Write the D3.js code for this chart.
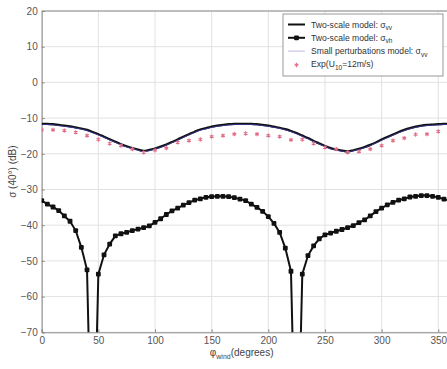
<!DOCTYPE html>
<html lang="en">
<head>
<meta charset="UTF-8">
<title>Two-scale model vs experiment</title>
<script src="https://d3js.org/d3.v7.min.js"></script>
<style>
    body { margin: 0; background: #fff; }
    text { font-family: "Liberation Sans", Arial, sans-serif; }
    .tick text { font-size: 10px; fill: #555; }
    .grid line { stroke: #e2e2e2; stroke-width: 1; }
</style>
</head>
<body>
<svg width="447" height="369"></svg>
<script>
// wind direction (deg) for model curves, 5 degree step
const phiModel = d3.range(0, 361, 5);

// Two-scale model sigma_vv (dB)
const twoScaleVV = [
    -11.6, -11.6, -11.7, -11.9, -12.1, -12.3, -12.6, -12.9, -13.3, -13.9,   // 0-45
    -14.5, -15.2, -15.9, -16.6, -17.3, -17.9, -18.4, -18.8, -19.2,          // 50-90
    -18.9, -18.5, -18.0, -17.4, -16.7, -16.0, -15.2, -14.5, -13.8, -13.2,   // 95-140
    -12.8, -12.4, -12.1, -11.9, -11.7, -11.6, -11.6,                        // 145-175
    -11.6, -11.6, -11.7, -11.9, -12.1, -12.4, -12.7, -13.1, -13.6, -14.2,   // 180-225
    -14.9, -15.6, -16.4, -17.1, -17.8, -18.4, -18.8, -19.1, -19.3,          // 230-270
    -19.0, -18.6, -18.1, -17.5, -16.8, -16.0, -15.3, -14.6, -13.9, -13.3,   // 275-320
    -12.8, -12.4, -12.1, -11.9, -11.8, -11.7, -11.6,                        // 325-355
    -11.6                                                                   // 360
];

// Small perturbations model sigma_vv (dB)
const spmVV = [
    -11.8, -11.8, -11.9, -12.1, -12.3, -12.5, -12.8, -13.1, -13.5, -14.1,
    -14.7, -15.4, -16.1, -16.8, -17.5, -18.1, -18.6, -19.0, -19.4,
    -19.1, -18.7, -18.2, -17.6, -16.9, -16.2, -15.4, -14.7, -14.0, -13.4,
    -13.0, -12.6, -12.3, -12.1, -11.9, -11.8, -11.8,
    -11.8, -11.8, -11.9, -12.1, -12.3, -12.6, -12.9, -13.3, -13.8, -14.4,
    -15.1, -15.8, -16.6, -17.3, -18.0, -18.6, -19.0, -19.3, -19.5,
    -19.2, -18.8, -18.3, -17.7, -17.0, -16.2, -15.5, -14.8, -14.1, -13.5,
    -13.0, -12.6, -12.3, -12.1, -12.0, -11.9, -11.8,
    -11.8
];

// Two-scale model sigma_vh (dB); values at 45 and 225 fall far below the axis
const twoScaleVH = [
    -33.1, -34.1, -34.9, -35.9, -37.4, -38.9, -41.5, -46.2, -52.5, -120,
    -53.7, -48.3, -45.3, -43.0, -42.4, -42.0, -41.5, -41.1, -40.7, -40.2,
    -39.2, -38.2, -37.0, -36.0, -35.2, -34.4, -33.7, -33.0, -32.6, -32.2,
    -32.0, -31.9, -31.9, -32.0, -32.3, -32.7, -33.1, -34.1, -35.0, -36.1,
    -37.6, -39.5, -42.0, -46.4, -52.9, -120, -53.7, -48.5, -45.8, -43.8,
    -42.7, -42.2, -41.7, -41.2, -40.7, -40.1, -39.3, -38.5, -37.4, -36.2,
    -35.2, -34.3, -33.6, -33.0, -32.6, -32.1, -31.9, -31.7, -31.7, -31.9,
    -32.2, -32.7, -33.1
];

// Experiment, U10 = 12 m/s, 10 degree step
const phiExp = d3.range(0, 360, 10);
const expVV = [
    -13.3, -13.3, -13.5, -14.0, -14.9, -16.0, -17.1, -17.7, -18.7, -19.6,
    -19.0, -18.4, -16.8, -16.3, -16.0, -15.2, -14.9, -14.5, -14.3, -14.5,
    -14.9, -15.2, -16.1, -16.0, -17.1, -18.2, -18.7, -19.6, -19.4, -18.7,
    -17.7, -16.3, -15.6, -14.6, -14.5, -13.7
];

const xTicks = [0, 50, 100, 150, 200, 250, 300, 350];
const yTicks = [-70, -60, -50, -40, -30, -20, -10, 0, 10, 20];

const pLeft = 41.7, pRight = 449.6, pTop = 11, pBottom = 332.3;

const svg = d3.select("svg");

const x = d3.scaleLinear().domain([0, 360]).range([pLeft, pRight]);
const y = d3.scaleLinear().domain([-70, 20]).range([pBottom, pTop]);

svg.append("defs").append("clipPath")
    .attr("id", "plot")
    .append("rect")
    .attr("x", pLeft).attr("y", pTop)
    .attr("width", pRight - pLeft).attr("height", pBottom - pTop);

// grid
const grid = svg.append("g").attr("class", "grid");
grid.selectAll(".vx").data(xTicks).enter().append("line")
    .attr("x1", d => x(d)).attr("x2", d => x(d))
    .attr("y1", pTop).attr("y2", pBottom);
grid.selectAll(".hy").data(yTicks).enter().append("line")
    .attr("x1", pLeft).attr("x2", pRight)
    .attr("y1", d => y(d)).attr("y2", d => y(d));

// axes (MATLAB style: inward ticks)
svg.append("g")
    .attr("transform", "translate(0," + pBottom + ")")
    .call(d3.axisBottom(x).tickValues(xTicks).tickSize(-3).tickPadding(5));
svg.append("g")
    .attr("transform", "translate(" + pLeft + ",0)")
    .call(d3.axisLeft(y).tickValues(yTicks).tickSize(-3).tickPadding(4));
svg.selectAll(".domain").attr("stroke", "#8a8a8a");
svg.selectAll(".tick line").attr("stroke", "#8a8a8a");

svg.append("line")
    .attr("x1", pLeft).attr("x2", pRight)
    .attr("y1", pTop).attr("y2", pTop)
    .attr("stroke", "#8a8a8a");

const plot = svg.append("g").attr("clip-path", "url(#plot)");

const line = d3.line()
    .x((d, i) => x(phiModel[i]))
    .y(d => y(d))
    .curve(d3.curveLinear);

// sigma_vh with markers
plot.append("path")
    .datum(twoScaleVH)
    .attr("d", line)
    .attr("fill", "none")
    .attr("stroke", "#111")
    .attr("stroke-width", 2);
plot.selectAll(".vh").data(twoScaleVH).enter().append("rect")
    .attr("x", (d, i) => x(phiModel[i]) - 2.4)
    .attr("y", d => y(d) - 2.4)
    .attr("width", 4.8).attr("height", 4.8)
    .attr("rx", 1)
    .attr("fill", "#111");

// two-scale sigma_vv
plot.append("path")
    .datum(twoScaleVV)
    .attr("d", line.curve(d3.curveCatmullRom))
    .attr("fill", "none")
    .attr("stroke", "#111")
    .attr("stroke-width", 2.2);

// SPM sigma_vv
plot.append("path")
    .datum(spmVV)
    .attr("d", line.curve(d3.curveCatmullRom))
    .attr("fill", "none")
    .attr("stroke", "#34348a")
    .attr("stroke-width", 1);

// experiment
const star = d3.symbol().type(d3.symbolAsterisk).size(13);
plot.selectAll(".exp").data(expVV).enter().append("path")
    .attr("d", star)
    .attr("transform", (d, i) => "translate(" + x(phiExp[i]) + "," + y(d) + ")")
    .attr("fill", "none")
    .attr("stroke", "#e0708a")
    .attr("stroke-width", 1.1);

// axis labels
const xl = svg.append("text")
    .attr("x", (pLeft + pRight) / 2 - 4)
    .attr("y", 356)
    .attr("text-anchor", "middle")
    .style("font-size", "10px")
    .attr("fill", "#444");
xl.append("tspan").text("φ");
xl.append("tspan").attr("dy", 3).style("font-size", "7px").text("wind");
xl.append("tspan").attr("dy", -3).text("(degrees)");

svg.append("text")
    .attr("transform", "translate(16," + ((pTop + pBottom) / 2) + ") rotate(-90)")
    .attr("text-anchor", "middle")
    .style("font-size", "10px")
    .attr("fill", "#444")
    .text("σ (40°) (dB)");

// legend
const lg = svg.append("g");
lg.append("rect")
    .attr("x", 283).attr("y", 14)
    .attr("width", 160).attr("height", 62)
    .attr("fill", "#fff")
    .attr("stroke", "#999");

const entries = [
    { main: "Two-scale model: σ", sub: "vv" },
    { main: "Two-scale model: σ", sub: "vh" },
    { main: "Small perturbations model: σ", sub: "vv" },
    { main: "Exp(U", sub: "10", tail: "=12m/s)" }
];
entries.forEach((e, i) => {
    const yy = 24.5 + i * 13.3;
    const t = lg.append("text")
        .attr("x", 311).attr("y", yy + 3)
        .style("font-size", "8.6px")
        .attr("fill", "#333");
    t.append("tspan").text(e.main);
    t.append("tspan").attr("dy", 2.5).style("font-size", "6.5px").text(e.sub);
    if (e.tail) t.append("tspan").attr("dy", -2.5).text(e.tail);
});
lg.append("line").attr("x1", 288).attr("x2", 305).attr("y1", 24.5).attr("y2", 24.5)
    .attr("stroke", "#111").attr("stroke-width", 2);
lg.append("line").attr("x1", 288).attr("x2", 305).attr("y1", 37.8).attr("y2", 37.8)
    .attr("stroke", "#111").attr("stroke-width", 2);
lg.append("rect").attr("x", 294.1).attr("y", 35.4).attr("width", 4.8).attr("height", 4.8)
    .attr("rx", 1).attr("fill", "#111");
lg.append("line").attr("x1", 288).attr("x2", 305).attr("y1", 51.1).attr("y2", 51.1)
    .attr("stroke", "#c4b8e4").attr("stroke-width", 1);
lg.append("path").attr("d", star)
    .attr("transform", "translate(296.5,65)")
    .attr("fill", "none").attr("stroke", "#e0708a").attr("stroke-width", 1.1);
</script>
</body>
</html>
